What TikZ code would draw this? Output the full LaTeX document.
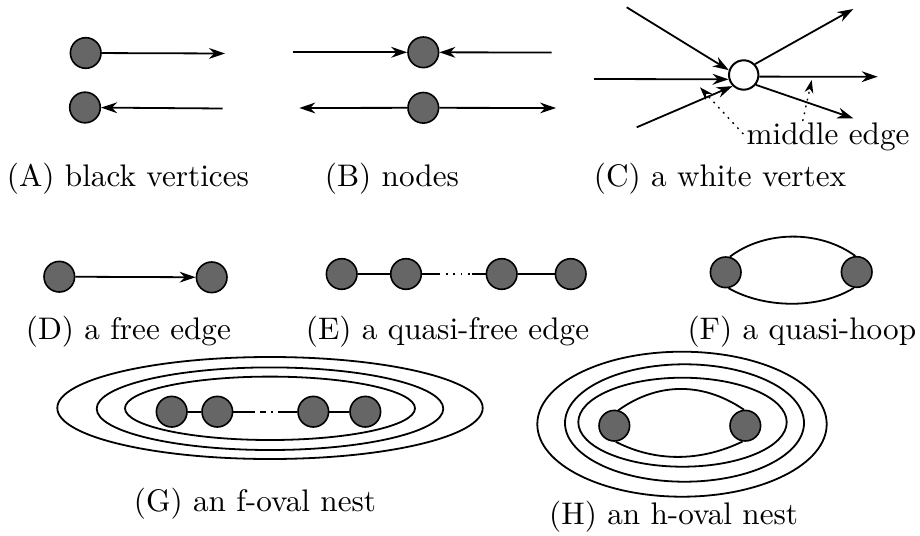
\documentclass[tikz,border=0pt]{standalone}
\usepackage{fontspec}
\setmainfont{lmroman10-regular}[Extension=.otf]
\usetikzlibrary{arrows.meta}
\begin{document}
\begin{tikzpicture}[x=0.5pt,y=-0.5pt,
  line width=0.9pt,
  bv/.style={circle,draw=black,fill=black!60,line width=0.8pt,minimum size=15.3pt,inner sep=0pt},
  wvx/.style={circle,draw=black,fill=white,line width=1pt,minimum size=14.7pt,inner sep=0pt},
  arr/.style={-{Stealth[length=8pt,width=5.4pt,inset=2.6pt]}},
  dotarr/.style={dash pattern=on 0.9pt off 2.6pt,-{Stealth[length=6.5pt,width=4.4pt,inset=2pt]}},
  lbl/.style={font=\fontsize{15.6pt}{18pt}\selectfont,inner sep=0pt,anchor=base west}]
\useasboundingbox (0,0) rectangle (920,535);

% (A)
\node[bv] (a1) at (85.7,53) {};
\coordinate (a1e) at (225,53.5);
\draw[arr] (a1) -- (a1e);
\node[bv] (a2) at (85,107.5) {};
\coordinate (a2s) at (222.7,108.5);
\draw[arr] (a2s) -- (a2);
\node[lbl] (la) at (6,186) {(A) black vertices};

% (B)
\node[bv] (b1) at (423.3,52.3) {};
\coordinate (b1l) at (292.7,52.3);
\coordinate (b1r) at (551.7,52.5);
\draw[arr] (b1l) -- (b1);
\draw[arr] (b1r) -- (b1);
\node[bv] (b2) at (423.3,107.8) {};
\coordinate (b2l) at (299.3,108);
\coordinate (b2r) at (556,108);
\draw[arr] (b2) -- (b2l);
\draw[arr] (b2) -- (b2r);
\node[lbl] (lb) at (324,186) {(B) nodes};

% (C)
\node[wvx] (wv) at (743.7,75) {};
\coordinate (c1) at (626.7,7.3);
\coordinate (c2) at (594,79);
\coordinate (c3) at (636.7,127.3);
\coordinate (c4) at (853.3,9);
\coordinate (c5) at (877.7,76.7);
\coordinate (c6) at (853.3,118.3);
\draw[arr] (c1) -- (wv.162);
\draw[arr] (c2) -- (wv.196);
\draw[arr] (c3) -- (wv.225);
\draw[arr] (wv.44) -- (c4);
\draw[arr] (wv.354) -- (c5);
\draw[arr] (wv.321) -- (c6);
\node[lbl] (me) at (745.7,144) {middle edge};
\coordinate (m1) at (743.3,134);
\coordinate (m1t) at (700,87.3);
\coordinate (m2) at (802.7,121);
\coordinate (m2t) at (811.7,80);
\draw[dotarr,line width=0.7pt] (m1) -- (m1t);
\draw[dotarr,line width=0.7pt] (m2) -- (m2t);
\node[lbl] (lc) at (593,186) {(C) a white vertex};

% (D)
\node[bv] (d1) at (59.3,276.7) {};
\node[bv] (d2) at (211.7,277.3) {};
\draw[arr] (d1) -- (d2);
\node[lbl] (ld) at (25,339.5) {(D) a free edge};

% (E)
\coordinate (ea) at (438.3,274);
\coordinate (eb) at (471.7,274);
\draw (ea) -- (eb) [dash pattern=on 0.9pt off 2.8pt];
\node[bv] (e1) at (341.7,274) {};
\node[bv] (e2) at (406,274) {};
\node[bv] (e3) at (501.7,274) {};
\node[bv] (e4) at (570.7,274) {};
\draw (e1) -- (e2);
\draw (e2) -- (ea);
\draw (eb) -- (e3);
\draw (e3) -- (e4);
\node[lbl] (le) at (305,339.5) {(E) a quasi-free edge};

% (F)
\node[bv] (f1) at (725.7,272.3) {};
\node[bv] (f2) at (856.7,272) {};
\draw (f1.75) .. controls (765,230) and (820,230) .. (f2.95);
\draw (f1.280) .. controls (765,309) and (820,309) .. (f2.260);
\node[lbl,anchor=base east] (lf) at (917,339.5) {(F) a quasi-hoop};

% (G)
\draw (270,408) ellipse [x radius=212.7, y radius=51];
\draw (270,408.7) ellipse [x radius=173.3, y radius=41.3];
\draw (270,408.3) ellipse [x radius=145, y radius=31.7];
\coordinate (ga) at (253,411.7);
\coordinate (gb) at (284,411.7);
\draw[dash pattern=on 0.8pt off 2.6pt on 3pt off 2.6pt] (ga) -- (gb);
\node[bv] (g1) at (171.7,411.7) {};
\node[bv] (g2) at (217.3,411.7) {};
\node[bv] (g3) at (313.3,411.7) {};
\node[bv] (g4) at (365.3,411.7) {};
\draw (g1) -- (g2);
\draw (g2) -- (ga);
\draw (gb) -- (g3);
\draw (g3) -- (g4);
\node[lbl] (lg) at (133,511) {(G) an f-oval nest};

% (H)
\draw (682,424.2) ellipse [x radius=144.7, y radius=72.5];
\draw (684.5,423) ellipse [x radius=119.5, y radius=58.7];
\draw (682.5,422.2) ellipse [x radius=104.2, y radius=44.5];
\node[bv] (h1) at (614.3,425.7) {};
\node[bv] (h2) at (745.3,425.7) {};
\draw (h1.75) .. controls (655,384) and (700,380) .. (h2.95);
\draw (h1.275) .. controls (655,462) and (700,462) .. (h2.260);
\node[lbl,anchor=base east] (lh) at (799,524.5) {(H) an h-oval nest};
\end{tikzpicture}
\end{document}
